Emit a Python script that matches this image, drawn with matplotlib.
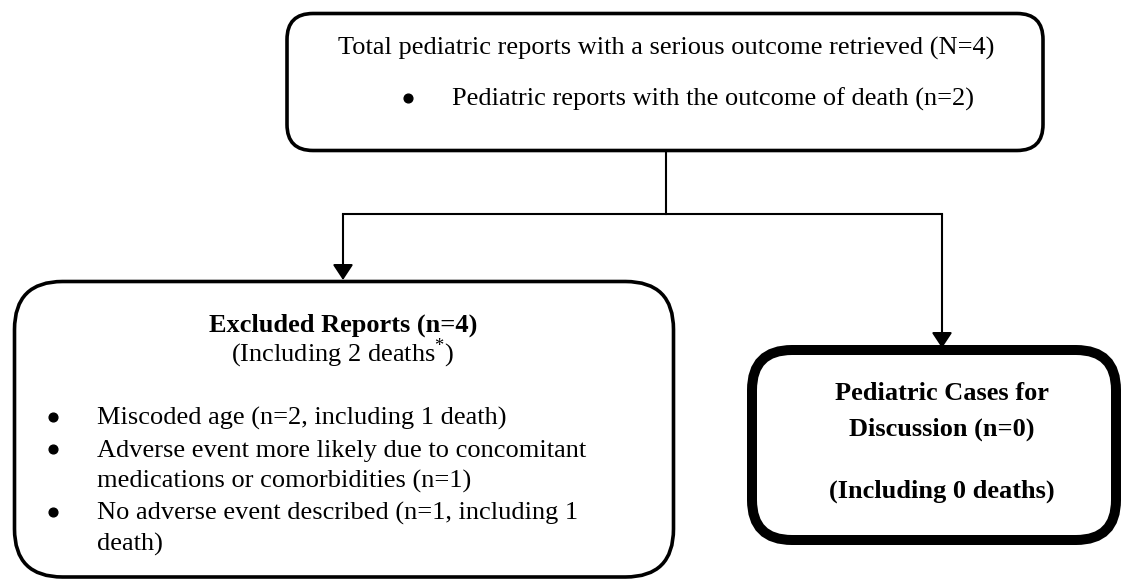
import matplotlib
matplotlib.use("Agg")
import matplotlib.pyplot as plt
from matplotlib.patches import FancyBboxPatch

plt.rcParams['font.family'] = ['Liberation Serif', 'DejaVu Serif']
plt.rcParams['mathtext.fontset'] = 'custom'
plt.rcParams['mathtext.rm'] = 'Liberation Serif'

# flowchart text
top_title = "Total pediatric reports with a serious outcome retrieved (N=4)"
top_bullet = "Pediatric reports with the outcome of death (n=2)"
excl_title = "Excluded Reports (n=4)"
excl_sub = "(Including 2 deaths$^{*}$)"
excl_lines = ["Miscoded age (n=2, including 1 death)",
              "Adverse event more likely due to concomitant",
              "medications or comorbidities (n=1)",
              "No adverse event described (n=1, including 1",
              "death)"]
excl_bullet = [True, True, False, True, False]
case_lines = ["Pediatric Cases for", "Discussion (n=0)", "", "(Including 0 deaths)"]

fs = 19

fig = plt.figure(figsize=(11.23, 5.8), dpi=100)
ax = fig.add_axes([0, 0, 1, 1])
ax.set_xlim(0, 1123)
ax.set_ylim(580, 0)
ax.axis('off')

# boxes
def box(x0, y0, x1, y1, r, lw):
    p = FancyBboxPatch((x0, y0), x1 - x0, y1 - y0,
                       boxstyle="round,pad=0,rounding_size=%d" % r,
                       fc='white', ec='black', lw=lw)
    ax.add_patch(p)

def bullet(x, y):
    # round bullet sitting at mid x-height of the line
    ax.plot(x, y - 8, marker='o', markersize=6.3, color='black')

box(287, 13.5, 1043, 150.5, 26, 2.6)
box(14.5, 281.5, 673.5, 577, 48, 2.6)
box(752, 350, 1116, 540, 40, 7.2)

# connectors
ax.plot([666, 666], [150.5, 214], color='black', lw=1.5)
ax.plot([343, 942], [214, 214], color='black', lw=1.5, solid_capstyle='projecting')
arrow = dict(arrowstyle='-|>,head_length=0.47,head_width=0.31', color='black',
             lw=1.5, shrinkA=0, shrinkB=0, mutation_scale=20)
ax.annotate('', xy=(343, 280), xytext=(343, 214), arrowprops=arrow)
ax.annotate('', xy=(942, 348), xytext=(942, 214), arrowprops=arrow)

# top box text
ax.text(666, 55, top_title, fontsize=fs, ha='center', va='baseline')
bullet(408, 106)
ax.text(452, 106, top_bullet, fontsize=fs, ha='left', va='baseline')

# excluded box text
ax.text(343, 332, excl_title, fontsize=fs, fontweight='bold', ha='center', va='baseline')
ax.text(343, 361, excl_sub, fontsize=fs, ha='center', va='baseline')
ys = [425, 457, 488, 520, 551]
for y, line, b in zip(ys, excl_lines, excl_bullet):
    if b:
        bullet(53, y)
    ax.text(97, y, line, fontsize=fs, ha='left', va='baseline')

# cases box text
for y, line in zip([400, 436, 467, 498], case_lines):
    ax.text(942, y, line, fontsize=fs, fontweight='bold', ha='center', va='baseline')

fig.savefig("out.png", dpi=100)
